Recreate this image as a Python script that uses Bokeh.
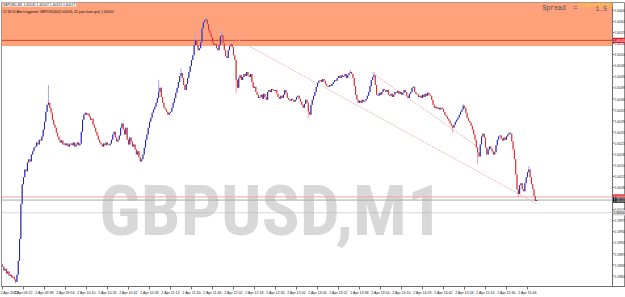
from bokeh.plotting import figure
from bokeh.models import (Range1d, FixedTicker, BoxAnnotation, Label,
                          ColumnDataSource)
from bokeh.core.properties import value
from bokeh.embed import file_html
from bokeh.resources import INLINE

# ---------------- data ----------------
first_open = 1.59836
closes = [
    1.59830, 1.59817, 1.59823, 1.59808, 1.59814, 1.59801, 1.59804, 1.59795,
    1.59798, 1.59789, 1.59782, 1.59804, 1.59848, 1.59917, 1.60027, 1.60090,
    1.60112, 1.60137, 1.60131, 1.60159, 1.60169, 1.60162, 1.60184, 1.60194,
    1.60206, 1.60209, 1.60222, 1.60216, 1.60231, 1.60228, 1.60241, 1.60263,
    1.60288, 1.60319, 1.60341, 1.60348, 1.60332, 1.60316, 1.60294, 1.60278,
    1.60269, 1.60253, 1.60241, 1.60231, 1.60222, 1.60228, 1.60216, 1.60219,
    1.60213, 1.60219, 1.60209, 1.60216, 1.60219, 1.60213, 1.60222, 1.60209,
    1.60216, 1.60222, 1.60213, 1.60219, 1.60256, 1.60294, 1.60310, 1.60316,
    1.60310, 1.60313, 1.60304, 1.60294, 1.60297, 1.60278, 1.60269, 1.60256,
    1.60244, 1.60231, 1.60222, 1.60216, 1.60209, 1.60219, 1.60213, 1.60222,
    1.60216, 1.60213, 1.60219, 1.60231, 1.60247, 1.60256, 1.60238, 1.60225,
    1.60231, 1.60244, 1.60269, 1.60282, 1.60263, 1.60247, 1.60269, 1.60231,
    1.60216, 1.60238, 1.60225, 1.60209, 1.60216, 1.60200, 1.60184, 1.60194,
    1.60175, 1.60162, 1.60169, 1.60184, 1.60206, 1.60231, 1.60247, 1.60269,
    1.60288, 1.60300, 1.60316, 1.60326, 1.60335, 1.60348, 1.60363, 1.60382,
    1.60395, 1.60366, 1.60348, 1.60332, 1.60326, 1.60319, 1.60310, 1.60316,
    1.60319, 1.60332, 1.60348, 1.60363, 1.60379, 1.60395, 1.60413, 1.60432,
    1.60442, 1.60426, 1.60404, 1.60388, 1.60407, 1.60426, 1.60445, 1.60464,
    1.60483, 1.60498, 1.60530, 1.60545, 1.60530, 1.60514, 1.60520, 1.60539,
    1.60583, 1.60602, 1.60608, 1.60611, 1.60596, 1.60577, 1.60567, 1.60555,
    1.60539, 1.60530, 1.60533, 1.60520, 1.60514, 1.60530, 1.60558, 1.60561,
    1.60536, 1.60514, 1.60495, 1.60489, 1.60514, 1.60527, 1.60533, 1.60523,
    1.60498, 1.60483, 1.60420, 1.60395, 1.60426, 1.60435, 1.60420, 1.60429,
    1.60439, 1.60432, 1.60445, 1.60435, 1.60429, 1.60439, 1.60413, 1.60395,
    1.60398, 1.60382, 1.60373, 1.60363, 1.60366, 1.60373, 1.60360, 1.60376,
    1.60366, 1.60357, 1.60382, 1.60388, 1.60382, 1.60391, 1.60388, 1.60385,
    1.60388, 1.60376, 1.60366, 1.60360, 1.60370, 1.60363, 1.60373, 1.60388,
    1.60379, 1.60363, 1.60357, 1.60354, 1.60360, 1.60357, 1.60351, 1.60357,
    1.60366, 1.60370, 1.60360, 1.60351, 1.60341, 1.60332, 1.60344, 1.60357,
    1.60348, 1.60319, 1.60310, 1.60341, 1.60357, 1.60370, 1.60382, 1.60398,
    1.60410, 1.60417, 1.60420, 1.60413, 1.60423, 1.60417, 1.60407, 1.60401,
    1.60398, 1.60404, 1.60401, 1.60407, 1.60413, 1.60420, 1.60417, 1.60426,
    1.60432, 1.60426, 1.60435, 1.60429, 1.60432, 1.60439, 1.60426, 1.60435,
    1.60442, 1.60445, 1.60439, 1.60426, 1.60401, 1.60373, 1.60357, 1.60348,
    1.60354, 1.60348, 1.60357, 1.60351, 1.60354, 1.60360, 1.60370, 1.60382,
    1.60401, 1.60420, 1.60429, 1.60435, 1.60404, 1.60373, 1.60370, 1.60379,
    1.60373, 1.60382, 1.60391, 1.60388, 1.60382, 1.60388, 1.60373, 1.60370,
    1.60376, 1.60366, 1.60373, 1.60382, 1.60379, 1.60385, 1.60376, 1.60382,
    1.60373, 1.60379, 1.60388, 1.60382, 1.60370, 1.60363, 1.60376, 1.60382,
    1.60395, 1.60398, 1.60382, 1.60376, 1.60373, 1.60366, 1.60370, 1.60363,
    1.60373, 1.60366, 1.60376, 1.60370, 1.60379, 1.60373, 1.60370, 1.60357,
    1.60341, 1.60332, 1.60335, 1.60329, 1.60332, 1.60326, 1.60332, 1.60329,
    1.60319, 1.60310, 1.60304, 1.60297, 1.60291, 1.60282, 1.60275, 1.60269,
    1.60278, 1.60288, 1.60294, 1.60300, 1.60310, 1.60319, 1.60326, 1.60338,
    1.60332, 1.60316, 1.60300, 1.60291, 1.60285, 1.60275, 1.60263, 1.60247,
    1.60231, 1.60206, 1.60191, 1.60178, 1.60216, 1.60241, 1.60250, 1.60238,
    1.60206, 1.60184, 1.60200, 1.60209, 1.60203, 1.60194, 1.60184, 1.60191,
    1.60213, 1.60231, 1.60241, 1.60244, 1.60234, 1.60228, 1.60238, 1.60231,
    1.60241, 1.60247, 1.60253, 1.60250, 1.60225, 1.60200, 1.60169, 1.60121,
    1.60074, 1.60059, 1.60087, 1.60093, 1.60074, 1.60068, 1.60093, 1.60112,
    1.60128, 1.60137, 1.60112, 1.60090, 1.60074, 1.60052, 1.60037, 1.60040,
]
high_wick_bars = [35, 119, 136, 147, 155, 167, 265, 283, 351, 401]
high_wick_vals = [1.60404, 1.60420, 1.60457, 1.60567, 1.60618, 1.60577,
                  1.60451, 1.60445, 1.60344, 1.60147]
low_wick_bars = [10, 178, 233, 343, 362, 393]
low_wick_vals = [1.59776, 1.60379, 1.60300, 1.60253, 1.60153, 1.60049]

price_ticks = [1.60640, 1.60605, 1.60570, 1.60535, 1.60500, 1.60465, 1.60430,
               1.60395, 1.60360, 1.60325, 1.60290, 1.60255, 1.60220, 1.60185,
               1.60150, 1.60115, 1.60080, 1.60045, 1.60010, 1.59975, 1.59940,
               1.59905, 1.59870, 1.59835, 1.59800, 1.59765]
time_ticks = [0, 16, 32, 48, 64, 80, 96, 112, 128, 144, 160, 176, 192, 208,
              224, 240, 256, 272, 288, 304, 320, 336, 352, 368, 384, 400]
time_labels = ["2 Apr 2012", "2 Apr 09:22", "2 Apr 09:38", "2 Apr 09:54",
               "2 Apr 10:10", "2 Apr 10:26", "2 Apr 10:42", "2 Apr 10:58",
               "2 Apr 11:14", "2 Apr 11:30", "2 Apr 11:46", "2 Apr 12:02",
               "2 Apr 12:18", "2 Apr 12:34", "2 Apr 12:50", "2 Apr 13:06",
               "2 Apr 13:22", "2 Apr 13:38", "2 Apr 13:54", "2 Apr 14:10",
               "2 Apr 14:26", "2 Apr 14:42", "2 Apr 14:58", "2 Apr 15:14",
               "2 Apr 15:30", "2 Apr 15:46"]

zone_bottom = 1.60527      # orange zone
alert_level = 1.60545      # red line in zone
bid_level = 1.60050
last_level = 1.60040
grid_level = 1.60000

trend_x0 = [156.2, 281.9]
trend_y0 = [1.60599, 1.60442]
trend_x1 = [407.6, 361.9]
trend_y1 = [1.60027, 1.60209]

# ---------------- geometry of the chart window ----------------
X0, XS, XE = -0.76, 464.76, 474.67       # chart left, price-scale line, window right
Y0, Y1 = 1.597667, 1.606647
TAG_H = 0.000085                          # half height of a price tag

# ---------------- derived candle table ----------------
n = len(closes)
bars = list(range(n))
opens = [first_open] + closes[:-1]
highs = [max(o, c) for o, c in zip(opens, closes)]
lows = [min(o, c) for o, c in zip(opens, closes)]
for i, v in zip(high_wick_bars, high_wick_vals):
    highs[i] = max(highs[i], v)
for i, v in zip(low_wick_bars, low_wick_vals):
    lows[i] = min(lows[i], v)
up = [c >= o for o, c in zip(opens, closes)]
src = ColumnDataSource(dict(
    m=bars,
    top=[max(o, c) for o, c in zip(opens, closes)],
    bot=[min(o, c) for o, c in zip(opens, closes)],
    hi=highs, lo=lows,
    body=["#2323B4" if u else "#D62A2A" for u in up],
    wick=["#A6A6E2" if u else "#F0A2A2" for u in up],
))

# ---------------- figure ----------------
p = figure(width=625, height=297, output_backend="svg", toolbar_location=None,
           x_range=Range1d(X0, XE), y_range=Range1d(Y0, Y1),
           y_axis_location=None,
           min_border_left=1, min_border_top=2, min_border_right=0,
           min_border_bottom=9)
p.background_fill_color = "white"
p.border_fill_color = "white"
p.outline_line_color = "#8C8C8C"
p.grid.visible = False

# orange zone
p.add_layout(BoxAnnotation(bottom=zone_bottom, right=XS, fill_color="#FFA27C",
                           fill_alpha=1.0, line_color=None, level="underlay"))

# watermark
p.add_layout(Label(x=204.6, y=1.60008, text="GBPUSD,M1", text_align="center",
                   text_baseline="middle", text_font_size="71px",
                   text_font_style="bold",
                   text_font="'Roboto Condensed', 'Noto Sans Condensed', 'Liberation Sans'",
                   text_color="#D8D8D8", level="underlay"))

# alert / bid / last / grid lines (drawn before candles so candles sit on top)
p.segment(x0=[X0], y0=[alert_level], x1=[XS], y1=[alert_level],
          line_color="#C4482C", line_width=1)
p.segment(x0=[X0], y0=[bid_level], x1=[XS], y1=[bid_level],
          line_color="#EFA3A3", line_width=1)
p.segment(x0=[X0], y0=[last_level], x1=[XS], y1=[last_level],
          line_color="#A8A8A8", line_width=1)
p.segment(x0=[X0], y0=[grid_level], x1=[XS], y1=[grid_level],
          line_color="#B4B4B4", line_width=1, line_dash="1 1")

# trend lines
p.segment(x0=trend_x0, y0=trend_y0, x1=trend_x1, y1=trend_y1,
          line_color="#E2A4A0", line_width=1, line_dash="1 1")

# candles
p.segment(x0="m", y0="hi", x1="m", y1="lo", line_color="wick", line_width=1,
          source=src)
p.vbar(x="m", width=0.8, top="top", bottom="bot", fill_color="body",
       line_color=None, source=src)

# ---------------- price scale (right) ----------------
p.segment(x0=[XS], y0=[Y0], x1=[XS], y1=[Y1], line_color="#6E6E6E", line_width=1)
p.segment(x0=[XS] * len(price_ticks), y0=price_ticks,
          x1=[XS + 1.5] * len(price_ticks), y1=price_ticks,
          line_color="#6E6E6E", line_width=1)
p.text(x=[XS + 1.7] * len(price_ticks), y=price_ticks,
       text=["%.5f" % v for v in price_ticks], text_baseline="middle",
       text_font_size=value("3.1px"), text_font=value("Liberation Sans"),
       text_color="#202020")

tag_levels = [alert_level, bid_level, last_level, grid_level]
tag_fill = ["#E0202A", "#E8424A", "#101010", "#D6D6D6"]
tag_text = ["white", "white", "white", "#404040"]
p.quad(left=[XS + 0.4] * 4, right=[XE] * 4,
       bottom=[v - TAG_H for v in tag_levels], top=[v + TAG_H for v in tag_levels],
       fill_color=tag_fill, line_color=None)
p.text(x=[XS + 1.0] * 4, y=tag_levels, text=["%.5f" % v for v in tag_levels],
       text_baseline="middle", text_font_size=value("3.1px"),
       text_font=value("Liberation Sans"), text_color=tag_text)

# ---------------- time axis ----------------
xa = p.xaxis[0]
xa.ticker = FixedTicker(ticks=time_ticks)
xa.major_label_overrides = {t: s for t, s in zip(time_ticks, time_labels)}
xa.major_label_text_font_size = "3.6px"
xa.major_label_text_font = "Liberation Sans"
xa.major_label_text_color = "#202020"
xa.major_label_text_align = "left"
xa.major_tick_out = 3
xa.major_tick_in = 0
xa.minor_tick_line_color = None
xa.major_label_standoff = 1
xa.axis_line_color = "#6E6E6E"
xa.major_tick_line_color = "#6E6E6E"

# ---------------- header texts ----------------
p.add_layout(Label(x=X0, y=Y1, text="GBPUSD,M1  1.60545 1.60547 1.60519 1.60527",
                   text_baseline="top", text_font_size="3.4px",
                   text_font="Liberation Sans", text_color="#101010",
                   background_fill_color="white", background_fill_alpha=1.0,
                   x_offset=1))
p.add_layout(Label(x=X0, y=1.60640,
                   text="#2 18:55 Alert triggered: GBPUSD(60)1.60543, 42 pips from grid_1.60500.",
                   text_baseline="top", text_font_size="3.4px",
                   text_font="Liberation Sans", text_color="#101010", x_offset=1))
p.add_layout(Label(x=438.1, y=1.60655, text="4.GBP=GBPUSD",
                   text_baseline="middle", text_font_size="4.6px",
                   text_font="Liberation Sans", text_color="#F2D21A"))
for xm, s in [(411.4, "Spread"), (435.0, "="), (451.8, "1.5")]:
    p.add_layout(Label(x=xm, y=1.60646, text=s,
                       text_baseline="middle", text_font_size="6.5px",
                       text_font="Liberation Mono", text_color="#505050"))

open("out.html", "w").write(file_html(p, INLINE))
